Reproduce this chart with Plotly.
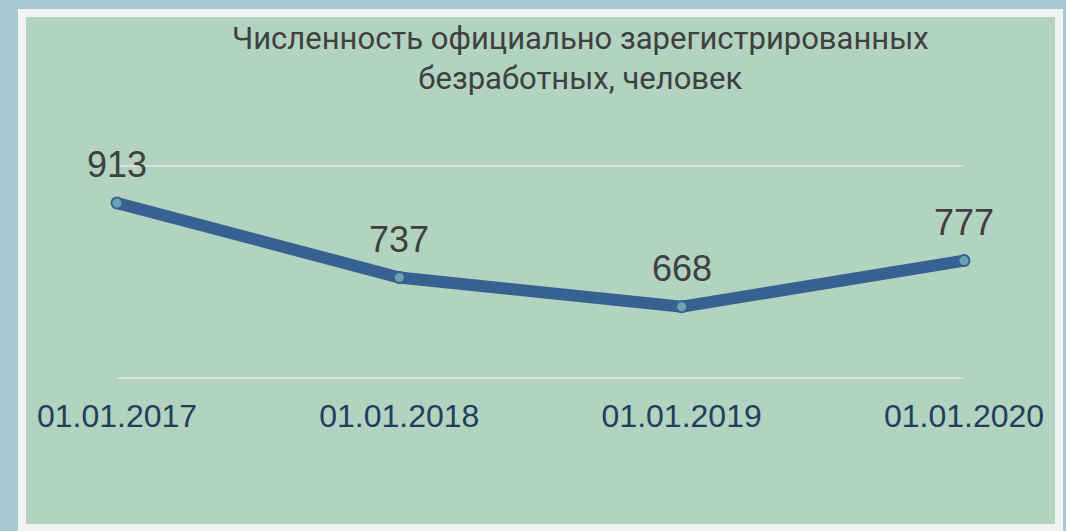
import plotly.graph_objects as go

# данные
dates = ["01.01.2017", "01.01.2018", "01.01.2019", "01.01.2020"]
unemployed = [913, 737, 668, 777]
grid_vals = [500, 1000]

title_text = "Численность официально зарегистрированных<br>безработных, человек"

W, H = 1066, 531
L, R, T, B = 117, 102, 164, 151
PW = W - L - R
PH = H - T - B


def px_x(px):
    return (px - L) / PW


def px_y(py):
    return (H - B - py) / PH


def strip(fig, x0, y0, x1, y1, color):
    fig.add_shape(
        type="rect", xref="paper", yref="paper", layer="above",
        x0=px_x(x0), x1=px_x(x1), y0=px_y(y0), y1=px_y(y1),
        fillcolor=color, line=dict(width=0),
    )


fig = go.Figure()
fig.add_trace(
    go.Scatter(
        x=dates,
        y=unemployed,
        mode="lines+markers",
        line=dict(color="#376191", width=12),
        marker=dict(size=11, color="#6ba5b2", line=dict(color="#376191", width=2)),
        cliponaxis=False,
        hoverinfo="skip",
    )
)

for d, v in zip(dates, unemployed):
    fig.add_annotation(
        x=d,
        y=v,
        text=str(v),
        showarrow=False,
        yshift=38,
        font=dict(family="Liberation Sans, Arial", size=36, color="#404040"),
    )

fig.add_annotation(
    xref="paper",
    yref="paper",
    x=px_x(580),
    y=px_y(58),
    text=title_text,
    showarrow=False,
    xanchor="center",
    yanchor="middle",
    font=dict(family="Roboto", size=31, color="#404040"),
)

# рамка: белая полоса и голубой фон вокруг
strip(fig, 18, 9, 1063, 17, "#f2f2f2")
strip(fig, 18, 9, 26, 540, "#f2f2f2")
strip(fig, 1055, 9, 1063, 540, "#f2f2f2")
strip(fig, 18, 524, 1063, 540, "#f2f2f2")
strip(fig, -5, -5, 1070, 9, "#a6c8d0")
strip(fig, -5, -5, 18, 540, "#a6c8d0")
strip(fig, 1063, -5, 1070, 540, "#a6c8d0")

fig.update_layout(
    template="none",
    width=W,
    height=H,
    margin=dict(l=L, r=R, t=T, b=B),
    paper_bgcolor="#b1d3bf",
    plot_bgcolor="#b1d3bf",
    showlegend=False,
    xaxis=dict(
        type="category",
        range=[0, 3],
        showgrid=False,
        zeroline=False,
        showline=False,
        ticks="",
        ticklabelstandoff=14,
        tickfont=dict(family="Liberation Sans, Arial", size=32, color="#213f5c"),
    ),
    yaxis=dict(
        range=[495, 1005],
        tickvals=grid_vals,
        ticks="",
        showgrid=True,
        gridcolor="#dcdcdc",
        gridwidth=2,
        zeroline=False,
        showticklabels=False,
        showline=False,
    ),
)

fig.write_html(
    "out.html",
    config={"displayModeBar": False},
    post_script="document.body.style.margin='0';document.body.style.background='#a6c8d0';",
)
